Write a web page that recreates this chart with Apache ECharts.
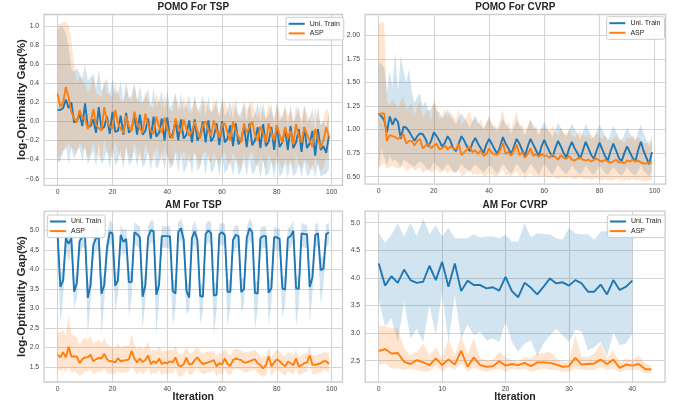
<!DOCTYPE html>
<html><head><meta charset="utf-8">
<script src="https://cdn.jsdelivr.net/npm/echarts@6/dist/echarts.min.js"></script>
<style>html,body{margin:0;padding:0;background:#fff}#c{width:678px;height:409px}</style>
</head><body><div id="c"></div>
<script>
// ---------- titles / legend names ----------
const panelTitles = ['POMO For TSP', 'POMO For CVRP', 'AM For TSP', 'AM For CVRP'];
const seriesNames = ['Uni. Train', 'ASP'];
const yLabel = 'log-Optimality Gap(%)';
const xLabel = 'Iteration';

// ---------- tick values ----------
const xTicks100 = [0, 20, 40, 60, 80, 100];
const xTicks40 = [0, 10, 20, 30, 40];
const yTicksTL = [-0.6, -0.4, -0.2, 0.0, 0.2, 0.4, 0.6, 0.8, 1.0];
const yTicksTR = [0.5, 0.75, 1.0, 1.25, 1.5, 1.75, 2.0];
const yTicksBL = [1.5, 2.0, 2.5, 3.0, 3.5, 4.0, 4.5, 5.0];
const yTicksBR = [2.5, 3.0, 3.5, 4.0, 4.5, 5.0];

// ---------- POMO For TSP ----------
const tlUniMean = [0.12,0.12,0.14,0.23,0.14,0.20,-0.01,0.00,0.08,-0.05,
0.19,-0.06,-0.05,0.02,-0.12,0.15,-0.08,-0.06,0.05,-0.13,
0.10,-0.11,-0.10,0.06,-0.14,0.09,-0.12,-0.08,0.05,-0.14,
0.07,-0.14,-0.10,0.03,-0.18,0.05,-0.16,-0.12,0.03,-0.20,
0.04,-0.17,-0.13,0.00,-0.20,0.02,-0.18,-0.14,0.01,-0.22,
0.02,-0.20,-0.15,0.00,-0.22,0.01,-0.21,-0.16,-0.02,-0.25,
0.00,-0.22,-0.18,-0.04,-0.26,-0.02,-0.24,-0.19,-0.05,-0.27,
-0.02,-0.25,-0.20,-0.06,-0.28,-0.03,-0.26,-0.21,-0.06,-0.30,
-0.04,-0.27,-0.22,-0.08,-0.30,-0.05,-0.28,-0.22,-0.08,-0.32,
-0.06,-0.28,-0.23,-0.10,-0.36,-0.08,-0.30,-0.26,-0.33,-0.15];
const tlUniLo = [-0.42,-0.42,-0.32,-0.25,-0.45,-0.28,-0.40,-0.30,-0.28,-0.42,
-0.25,-0.45,-0.38,-0.30,-0.48,-0.22,-0.45,-0.40,-0.30,-0.50,
-0.28,-0.46,-0.42,-0.30,-0.50,-0.28,-0.46,-0.42,-0.30,-0.48,
-0.30,-0.48,-0.44,-0.32,-0.52,-0.30,-0.50,-0.45,-0.32,-0.52,
-0.32,-0.50,-0.46,-0.34,-0.54,-0.32,-0.55,-0.48,-0.34,-0.56,
-0.33,-0.52,-0.48,-0.36,-0.57,-0.34,-0.55,-0.50,-0.38,-0.58,
-0.36,-0.55,-0.50,-0.40,-0.58,-0.38,-0.57,-0.52,-0.40,-0.58,
-0.38,-0.56,-0.52,-0.42,-0.60,-0.40,-0.58,-0.54,-0.42,-0.60,
-0.40,-0.58,-0.54,-0.44,-0.60,-0.42,-0.58,-0.54,-0.44,-0.60,
-0.42,-0.58,-0.55,-0.45,-0.60,-0.44,-0.58,-0.56,-0.55,-0.50];
const tlUniHi = [0.95,1.00,0.98,0.92,0.78,0.55,0.52,0.56,0.50,0.45,
0.60,0.42,0.46,0.50,0.35,0.55,0.32,0.38,0.45,0.28,
0.45,0.30,0.30,0.42,0.22,0.42,0.24,0.28,0.40,0.20,
0.38,0.20,0.25,0.35,0.15,0.35,0.16,0.22,0.32,0.12,
0.32,0.14,0.20,0.30,0.10,0.30,0.12,0.18,0.28,0.08,
0.28,0.10,0.16,0.28,0.06,0.27,0.08,0.14,0.24,0.04,
0.26,0.06,0.12,0.22,0.02,0.24,0.04,0.10,0.20,0.00,
0.22,0.02,0.08,0.20,0.00,0.20,0.02,0.08,0.18,-0.04,
0.20,0.00,0.06,0.16,-0.04,0.18,-0.02,0.06,0.16,-0.06,
0.18,-0.02,0.04,0.14,-0.10,0.16,-0.04,0.00,-0.05,0.09];
const tlAspMean = [0.29,0.15,0.20,0.36,0.25,0.10,0.03,-0.01,0.12,0.03,
0.03,-0.08,-0.02,0.13,-0.04,-0.07,-0.10,0.15,0.00,-0.05,
-0.08,0.12,-0.02,-0.08,-0.12,0.06,-0.05,-0.10,0.10,-0.02,
-0.08,-0.12,0.08,-0.04,-0.10,-0.13,0.05,-0.06,-0.12,0.04,
-0.08,-0.14,-0.18,0.03,-0.06,-0.12,0.02,-0.08,-0.15,-0.10,
0.00,-0.10,-0.18,-0.04,0.00,-0.10,-0.15,0.01,-0.09,-0.17,
-0.03,-0.02,-0.12,-0.20,0.00,-0.10,-0.16,-0.22,-0.02,-0.12,
-0.06,0.00,-0.14,-0.20,-0.05,-0.13,-0.22,-0.02,-0.12,-0.20,
-0.04,-0.14,-0.22,-0.06,-0.18,-0.10,-0.24,-0.03,-0.16,-0.22,
-0.06,-0.14,-0.20,-0.27,-0.08,-0.18,-0.28,-0.20,-0.06,-0.16];
const tlAspLo = [-0.38,-0.36,-0.30,-0.30,-0.22,-0.28,-0.30,-0.36,-0.22,-0.28,
-0.30,-0.38,-0.32,-0.20,-0.34,-0.38,-0.40,-0.18,-0.32,-0.36,
-0.38,-0.20,-0.32,-0.38,-0.42,-0.26,-0.36,-0.40,-0.22,-0.32,
-0.38,-0.42,-0.24,-0.34,-0.40,-0.42,-0.26,-0.36,-0.42,-0.28,
-0.38,-0.44,-0.46,-0.30,-0.36,-0.42,-0.30,-0.38,-0.44,-0.40,
-0.32,-0.40,-0.46,-0.34,-0.32,-0.40,-0.44,-0.32,-0.40,-0.46,
-0.34,-0.33,-0.42,-0.48,-0.32,-0.40,-0.46,-0.50,-0.34,-0.42,
-0.36,-0.32,-0.44,-0.48,-0.36,-0.42,-0.50,-0.34,-0.42,-0.48,
-0.36,-0.44,-0.50,-0.38,-0.46,-0.40,-0.52,-0.34,-0.46,-0.50,
-0.38,-0.44,-0.48,-0.52,-0.38,-0.46,-0.52,-0.48,-0.38,-0.42];
const tlAspHi = [1.02,1.02,1.04,1.04,1.00,0.85,0.60,0.40,0.48,0.42,
0.40,0.30,0.35,0.48,0.30,0.28,0.25,0.45,0.30,0.28,
0.25,0.40,0.30,0.22,0.20,0.35,0.25,0.20,0.38,0.25,
0.20,0.18,0.32,0.22,0.16,0.14,0.30,0.20,0.15,0.28,
0.18,0.12,0.10,0.28,0.18,0.12,0.26,0.16,0.10,0.14,
0.24,0.14,0.08,0.20,0.22,0.14,0.10,0.24,0.14,0.08,
0.20,0.20,0.12,0.05,0.22,0.12,0.08,0.02,0.20,0.12,
0.16,0.22,0.10,0.04,0.18,0.10,0.03,0.20,0.10,0.04,
0.18,0.10,0.02,0.16,0.06,0.12,0.00,0.18,0.08,0.02,
0.16,0.08,0.02,-0.04,0.14,0.04,-0.04,0.02,0.14,0.08];

// ---------- POMO For CVRP ----------
const trUniMean = [1.17,1.14,1.10,0.97,1.14,1.05,1.12,1.08,0.90,1.03,
1.02,0.98,0.93,0.88,0.93,0.96,0.95,0.90,0.82,0.88,
0.97,0.93,0.88,0.82,0.86,0.93,0.88,0.80,0.77,0.85,
0.93,0.88,0.82,0.77,0.86,0.91,0.85,0.80,0.75,0.84,
0.90,0.85,0.79,0.74,0.82,0.92,0.85,0.80,0.74,0.82,
0.90,0.85,0.78,0.72,0.82,0.90,0.84,0.78,0.72,0.82,
0.89,0.82,0.76,0.71,0.80,0.88,0.82,0.75,0.70,0.80,
0.87,0.80,0.75,0.69,0.78,0.87,0.80,0.73,0.69,0.78,
0.86,0.79,0.72,0.67,0.77,0.85,0.78,0.70,0.66,0.75,
0.82,0.76,0.70,0.66,0.78,0.87,0.77,0.70,0.63,0.76];
const trUniLo = [0.55,0.80,0.70,0.62,0.72,0.66,0.68,0.65,0.60,0.68,
0.66,0.64,0.62,0.60,0.64,0.66,0.64,0.60,0.56,0.60,
0.66,0.62,0.60,0.56,0.60,0.64,0.60,0.56,0.54,0.58,
0.64,0.60,0.58,0.55,0.60,0.63,0.60,0.57,0.54,0.58,
0.62,0.60,0.56,0.53,0.58,0.64,0.60,0.56,0.53,0.58,
0.64,0.60,0.56,0.53,0.58,0.64,0.60,0.56,0.52,0.58,
0.64,0.60,0.55,0.52,0.58,0.63,0.58,0.55,0.52,0.57,
0.62,0.58,0.55,0.52,0.56,0.62,0.58,0.54,0.52,0.56,
0.62,0.58,0.54,0.52,0.56,0.60,0.57,0.53,0.51,0.55,
0.60,0.56,0.53,0.51,0.56,0.62,0.56,0.53,0.50,0.56];
const trUniHi = [1.70,1.70,1.65,1.40,1.62,1.45,1.82,1.40,1.78,1.62,
1.50,1.65,1.40,1.28,1.35,1.38,1.25,1.30,1.20,1.22,
1.28,1.20,1.18,1.12,1.15,1.22,1.15,1.10,1.05,1.12,
1.18,1.12,1.08,1.02,1.10,1.15,1.08,1.04,1.00,1.08,
1.12,1.05,1.02,0.98,1.05,1.12,1.06,1.02,0.96,1.02,
1.10,1.06,1.00,0.94,1.02,1.10,1.05,1.00,0.94,1.02,
1.08,1.02,0.97,0.92,1.00,1.07,1.02,0.96,0.92,1.00,
1.06,1.00,0.96,0.90,0.98,1.06,1.00,0.94,0.90,0.98,
1.05,1.00,0.94,0.88,0.96,1.04,0.98,0.92,0.88,0.95,
1.02,0.96,0.92,0.88,0.98,1.05,0.96,0.90,0.82,0.94];
const trAspMean = [1.16,1.17,1.17,0.88,0.94,0.93,0.92,0.90,0.92,0.95,
0.85,0.88,0.88,0.83,0.88,0.90,0.80,0.83,0.85,0.80,
0.83,0.85,0.79,0.80,0.83,0.79,0.82,0.80,0.79,0.85,
0.73,0.76,0.79,0.82,0.76,0.78,0.74,0.78,0.72,0.74,
0.80,0.75,0.74,0.73,0.78,0.86,0.74,0.76,0.72,0.78,
0.84,0.73,0.76,0.70,0.74,0.80,0.72,0.74,0.71,0.74,
0.72,0.72,0.70,0.74,0.71,0.68,0.73,0.70,0.69,0.72,
0.68,0.67,0.69,0.70,0.68,0.67,0.68,0.66,0.68,0.69,
0.67,0.66,0.68,0.66,0.65,0.66,0.68,0.65,0.66,0.64,
0.67,0.66,0.68,0.66,0.67,0.65,0.64,0.64,0.65,0.65];
const trAspLo = [0.60,0.62,0.65,0.58,0.60,0.62,0.60,0.58,0.60,0.62,
0.56,0.58,0.60,0.56,0.58,0.60,0.54,0.56,0.58,0.54,
0.56,0.58,0.54,0.55,0.57,0.54,0.56,0.55,0.54,0.58,
0.50,0.52,0.55,0.57,0.52,0.54,0.51,0.54,0.50,0.51,
0.55,0.52,0.51,0.50,0.54,0.58,0.51,0.52,0.50,0.54,
0.56,0.50,0.52,0.48,0.51,0.55,0.50,0.51,0.49,0.51,
0.50,0.50,0.49,0.51,0.49,0.47,0.50,0.49,0.48,0.50,
0.48,0.47,0.48,0.49,0.48,0.47,0.48,0.46,0.48,0.48,
0.47,0.46,0.48,0.46,0.46,0.46,0.48,0.46,0.46,0.45,
0.47,0.46,0.48,0.46,0.47,0.46,0.45,0.45,0.46,0.46];
const trAspHi = [2.12,2.14,2.13,1.30,1.25,1.32,1.28,1.22,1.30,1.35,
1.20,1.25,1.28,1.15,1.25,1.30,1.12,1.18,1.22,1.10,
1.32,1.25,1.10,1.15,1.22,1.12,1.18,1.15,1.10,1.22,
1.05,1.10,1.15,1.20,1.08,1.12,1.05,1.12,1.02,1.05,
1.15,1.06,1.04,1.02,1.10,1.22,1.04,1.08,1.00,1.10,
1.20,1.02,1.06,0.98,1.04,1.12,1.00,1.04,0.98,1.02,
1.02,1.00,0.98,1.04,0.98,0.94,1.02,0.96,0.95,1.00,
0.94,0.92,0.96,0.98,0.94,0.92,0.95,0.90,0.94,0.96,
0.92,0.90,0.94,0.90,0.88,0.90,0.94,0.88,0.90,0.86,
0.92,0.90,0.94,0.90,0.92,0.88,0.86,0.85,0.88,0.86];

// ---------- AM For TSP ----------
const blUniMean = [4.85,3.55,3.72,4.80,4.65,4.80,3.43,3.65,4.72,4.83,
4.83,3.27,3.60,4.62,4.80,4.80,3.38,3.60,4.55,4.95,
4.92,3.58,3.72,4.88,4.70,4.78,3.67,3.68,4.95,4.90,
4.82,3.30,3.60,4.82,5.00,4.98,3.35,3.60,4.85,4.85,
4.85,4.84,3.45,3.38,4.95,5.05,4.75,3.45,3.28,4.80,
4.97,4.75,3.32,3.30,4.90,5.00,4.92,3.33,3.35,4.90,
4.95,4.88,3.43,3.42,4.75,4.88,4.85,3.42,3.50,4.80,
5.05,4.95,3.40,3.38,4.80,4.85,4.85,3.40,3.52,4.82,
4.82,4.78,3.52,3.48,4.80,4.85,4.98,3.52,3.50,4.92,
4.90,4.90,3.55,3.80,4.88,4.92,3.98,4.02,4.90,4.95];
const blUniLo = [4.50,2.60,3.30,4.45,4.20,4.50,3.00,3.25,4.35,4.55,
4.55,2.30,3.20,4.25,4.50,4.50,2.35,3.20,4.15,4.65,
4.60,2.90,3.35,4.55,4.35,4.45,2.80,3.30,4.65,4.60,
4.50,2.45,3.20,4.50,4.70,4.65,2.30,3.20,4.55,4.55,
4.55,4.50,2.55,3.00,4.65,4.75,4.40,2.85,2.95,4.45,
4.65,4.40,2.60,2.95,4.60,4.70,4.60,2.30,3.00,4.60,
4.65,4.55,2.55,3.05,4.40,4.55,4.55,2.90,3.10,4.45,
4.75,4.65,2.45,3.00,4.45,4.55,4.55,2.55,3.15,4.50,
4.50,4.45,2.75,3.10,4.45,4.55,4.70,2.55,3.10,4.60,
4.55,4.55,2.65,3.40,4.55,4.60,3.08,3.65,4.55,4.65];
const blUniHi = [5.10,3.85,4.05,5.05,4.95,5.10,3.75,3.95,5.00,5.10,
5.10,3.60,3.90,4.90,5.10,5.10,3.70,3.90,4.85,5.25,
5.20,3.90,4.00,5.15,5.00,5.05,3.95,3.95,5.20,5.15,
5.10,3.65,3.90,5.10,5.25,5.25,3.65,3.90,5.10,5.10,
5.10,5.10,3.75,3.70,5.20,5.30,5.05,3.75,3.60,5.05,
5.25,5.00,3.65,3.60,5.15,5.25,5.20,3.65,3.65,5.15,
5.20,5.15,3.75,3.75,5.00,5.15,5.10,3.75,3.80,5.05,
5.30,5.20,3.70,3.70,5.05,5.10,5.10,3.70,3.85,5.10,
5.05,5.05,3.85,3.80,5.05,5.10,5.25,3.85,3.80,5.20,
5.15,5.15,3.85,4.15,5.15,5.20,4.30,4.35,5.15,5.20];
const blAspMean = [1.82,1.75,1.88,1.75,2.02,1.77,1.78,1.77,1.60,1.70,
1.75,1.75,1.82,1.65,1.70,1.74,1.72,1.84,1.70,1.65,
1.65,1.62,1.73,1.65,1.67,1.68,1.70,1.92,1.72,1.62,
1.72,1.63,1.68,1.80,1.58,1.65,1.60,1.72,1.58,1.62,
1.60,1.65,1.62,1.75,1.55,1.52,1.58,1.74,1.57,1.58,
1.68,1.75,1.65,1.58,1.60,1.62,1.65,1.68,1.52,1.60,
1.57,1.72,1.58,1.53,1.68,1.72,1.70,1.68,1.62,1.62,
1.65,1.68,1.70,1.60,1.55,1.47,1.55,1.78,1.52,1.62,
1.70,1.65,1.58,1.52,1.64,1.60,1.55,1.72,1.52,1.55,
1.60,1.62,1.80,1.56,1.56,1.58,1.60,1.65,1.65,1.58];
const blAspLo = [1.45,1.40,1.45,1.35,1.50,1.35,1.40,1.35,1.28,1.32,
1.40,1.38,1.45,1.32,1.35,1.40,1.38,1.48,1.35,1.32,
1.35,1.32,1.40,1.35,1.36,1.36,1.38,1.55,1.40,1.32,
1.40,1.32,1.38,1.50,1.30,1.36,1.32,1.42,1.30,1.34,
1.32,1.36,1.34,1.48,1.28,1.25,1.30,1.46,1.30,1.31,
1.40,1.48,1.38,1.32,1.34,1.36,1.38,1.42,1.26,1.34,
1.30,1.46,1.32,1.28,1.42,1.46,1.44,1.42,1.36,1.36,
1.40,1.42,1.44,1.35,1.30,1.24,1.30,1.55,1.28,1.38,
1.45,1.40,1.34,1.28,1.40,1.36,1.32,1.48,1.28,1.32,
1.36,1.38,1.55,1.32,1.32,1.34,1.36,1.42,1.42,1.34];
const blAspHi = [2.38,2.40,2.45,2.30,2.85,2.35,2.30,2.25,2.05,2.20,
2.25,2.20,2.30,2.10,2.15,2.20,2.10,2.25,2.10,2.05,
2.00,2.00,2.10,2.00,2.05,2.05,2.05,2.35,2.10,1.95,
2.05,1.95,2.00,2.15,1.90,1.95,1.90,2.05,1.90,1.92,
1.90,1.95,1.92,2.05,1.85,1.82,1.88,2.02,1.85,1.86,
1.95,2.02,1.92,1.85,1.88,1.90,1.90,1.92,1.80,1.86,
1.84,1.98,1.85,1.80,1.94,1.98,1.95,1.92,1.88,1.88,
1.90,1.92,1.95,1.86,1.80,1.72,1.80,2.00,1.78,1.86,
1.94,1.90,1.82,1.78,1.88,1.84,1.80,1.95,1.76,1.80,
1.84,1.86,2.05,1.80,1.80,1.82,1.84,1.88,1.88,1.84];

// ---------- AM For CVRP ----------
const brUniMean = [4.26,3.86,4.03,3.91,4.15,3.96,3.91,3.93,4.22,3.96,
4.29,3.84,4.26,3.76,3.95,3.87,3.87,3.81,3.83,3.77,
4.02,3.76,3.65,3.91,3.82,3.70,3.84,3.99,3.90,3.92,
3.86,3.96,3.90,3.75,3.75,3.88,3.70,3.96,3.78,3.84,3.95];
const brUniLo = [3.60,3.12,3.27,2.84,3.57,2.90,3.08,2.84,3.51,2.96,
3.75,2.84,3.69,2.90,3.15,2.96,3.03,2.87,2.90,2.84,
3.20,2.84,2.66,2.81,2.87,2.58,2.81,2.96,3.08,2.96,
2.84,3.06,3.03,2.69,2.75,2.84,2.57,3.01,2.78,2.81,2.99];
const brUniHi = [4.82,4.63,4.78,4.99,4.75,5.00,4.76,5.07,4.79,4.95,
4.75,4.91,4.72,4.72,4.72,4.79,4.73,4.75,4.75,4.72,
4.78,4.66,4.66,4.99,4.73,4.81,4.79,4.79,4.72,4.69,
4.90,4.81,4.79,4.79,4.69,4.84,4.85,4.84,4.90,4.84,4.84];
const brAspMean = [2.675,2.71,2.63,2.64,2.48,2.44,2.51,2.47,2.42,2.54,
2.42,2.52,2.43,2.68,2.39,2.56,2.42,2.39,2.40,2.49,
2.41,2.44,2.42,2.46,2.40,2.47,2.47,2.46,2.43,2.39,
2.40,2.55,2.43,2.44,2.45,2.52,2.44,2.52,2.37,2.43,
2.41,2.44,2.35,2.34];
const brAspLo = [2.42,2.45,2.36,2.36,2.33,2.36,2.33,2.30,2.31,2.41,
2.30,2.39,2.33,2.45,2.30,2.37,2.33,2.30,2.33,2.36,
2.30,2.35,2.33,2.36,2.30,2.33,2.36,2.33,2.33,2.30,
2.30,2.36,2.33,2.33,2.33,2.39,2.33,2.36,2.29,2.33,
2.33,2.33,2.27,2.27];
const brAspHi = [3.13,3.12,3.09,3.09,2.72,2.60,2.66,2.81,2.60,2.75,
2.54,2.90,2.60,2.96,2.60,2.90,2.54,2.51,2.51,2.66,
2.56,2.51,2.48,2.57,2.54,2.63,2.63,2.67,2.54,2.48,
2.48,2.96,2.57,2.57,2.63,2.81,2.54,2.69,2.48,2.54,
2.51,2.60,2.45,2.41];

// ---------- styling ----------
const FONT = '"Liberation Sans", Arial, sans-serif';
const BLUE = '#1f77b4', ORANGE = '#ff7f0e';
const BLUE_BAND = 'rgba(31,119,180,0.2)', ORANGE_BAND = 'rgba(255,127,14,0.2)';
const TXT = '#262626';

const panels = [
  {uni:[tlUniMean,tlUniLo,tlUniHi], asp:[tlAspMean,tlAspLo,tlAspHi], xr:[-4.95,103.95], xt:xTicks100, yr:[-0.67,1.12], yt:yTicksTL, dec:1,
   grid:{left:44.1, top:14.5, width:298.4, height:170.8}, legend:{left:286, top:17.3}, titleTop:2.5},
  {uni:[trUniMean,trUniLo,trUniHi], asp:[trAspMean,trAspLo,trAspHi], xr:[-4.95,103.95], xt:xTicks100, yr:[0.42,2.22], yt:yTicksTR, dec:2,
   grid:{left:365.0, top:14.5, width:300.6, height:169.7}, legend:{left:606.7, top:16.7}, titleTop:2.5},
  {uni:[blUniMean,blUniLo,blUniHi], asp:[blAspMean,blAspLo,blAspHi], xr:[-4.95,103.95], xt:xTicks100, yr:[1.12,5.49], yt:yTicksBL, dec:1,
   grid:{left:44.1, top:211.1, width:298.4, height:170.9}, legend:{left:47.3, top:215}, titleTop:199.8},
  {uni:[brUniMean,brUniLo,brUniHi], asp:[brAspMean,brAspLo,brAspHi], xr:[-2.15,45.15], xt:xTicks40, yr:[2.11,5.21], yt:yTicksBR, dec:1,
   grid:{left:365.1, top:211.1, width:299.9, height:171.1}, legend:{left:607.3, top:215}, titleTop:199.8}
];

const fmt = (v, d) => (v < 0 ? '\u2212' : '') + Math.abs(v).toFixed(d);

function bandSeries(gi, lo, hi, fill) {
  return {
    type:'custom', xAxisIndex:gi, yAxisIndex:gi, silent:true, z:1, clip:true,
    data: lo.map((v,i)=>[i, v, hi[i]]),
    encode:{x:0, y:[1,2]},
    renderItem: (params, api) => {
      if (params.dataIndex !== 0) return null;
      const pts = [];
      for (let i = 0; i < hi.length; i++) pts.push(api.coord([i, hi[i]]));
      for (let i = lo.length - 1; i >= 0; i--) pts.push(api.coord([i, lo[i]]));
      return {type:'polygon', shape:{points:pts}, style:{fill:fill, stroke:null}, silent:true};
    }
  };
}

const grids = [], xAxes = [], yAxes = [], series = [], legends = [], titles = [];
panels.forEach((p, gi) => {
  grids.push(Object.assign({show:true, borderColor:'#cccccc', borderWidth:1.3, backgroundColor:'#ffffff', containLabel:false}, p.grid));
  xAxes.push({type:'value', gridIndex:gi, min:p.xr[0], max:p.xr[1],
    axisLine:{show:false}, axisTick:{show:false, customValues:p.xt},
    axisLabel:{customValues:p.xt, fontSize:6.8, color:'#444', fontFamily:FONT, margin:3.5, formatter:v=>String(v)},
    splitLine:{show:true, lineStyle:{color:'#d4d4d4', width:1.1}}});
  yAxes.push({type:'value', gridIndex:gi, min:p.yr[0], max:p.yr[1],
    axisLine:{show:false}, axisTick:{show:false, customValues:p.yt},
    axisLabel:{customValues:p.yt, fontSize:6.8, color:'#444', fontFamily:FONT, margin:5, formatter:v=>fmt(v,p.dec)},
    splitLine:{show:true, lineStyle:{color:'#d4d4d4', width:1.1}}});
  series.push(bandSeries(gi, p.uni[1], p.uni[2], BLUE_BAND));
  series.push(bandSeries(gi, p.asp[1], p.asp[2], ORANGE_BAND));
  [[p.uni[0], BLUE, seriesNames[0]], [p.asp[0], ORANGE, seriesNames[1]]].forEach(([mean, col, nm]) => {
    series.push({type:'line', name:nm, xAxisIndex:gi, yAxisIndex:gi, data: mean.map((v,i)=>[i,v]),
      symbol:'none', lineStyle:{color:col, width:1.9}, itemStyle:{color:col}, z:3, emphasis:{disabled:true}});
  });
  legends.push({data:seriesNames, orient:'vertical', left:p.legend.left, top:p.legend.top,
    icon:'rect', itemWidth:16, itemHeight:2, itemGap:1.6, padding:[2.5,4,2.5,2.7],
    backgroundColor:'rgba(255,255,255,0.85)', borderColor:'#cccccc', borderWidth:1, borderRadius:2,
    textStyle:{fontSize:7, color:TXT, fontFamily:FONT, lineHeight:8}, selectedMode:false});
  titles.push({text:panelTitles[gi], left:p.grid.left + p.grid.width/2, top:p.titleTop, textAlign:'center', padding:0,
    textStyle:{fontSize:10, fontWeight:'bold', color:TXT, fontFamily:FONT}});
});

const graphics = [
  {type:'text', x:22, y:99.5, rotation:Math.PI/2, style:{text:yLabel, fill:TXT, font:'bold 11.5px ' + FONT, textAlign:'center', textVerticalAlign:'middle'}},
  {type:'text', x:22, y:296.5, rotation:Math.PI/2, style:{text:yLabel, fill:TXT, font:'bold 11.5px ' + FONT, textAlign:'center', textVerticalAlign:'middle'}},
  {type:'text', x:193.3, y:397, style:{text:xLabel, fill:TXT, font:'bold 10.5px ' + FONT, textAlign:'center', textVerticalAlign:'middle'}},
  {type:'text', x:515, y:397, style:{text:xLabel, fill:TXT, font:'bold 10.5px ' + FONT, textAlign:'center', textVerticalAlign:'middle'}}
];

const chart = echarts.init(document.getElementById('c'), null, {renderer:'canvas'});
chart.setOption({
  animation:false, backgroundColor:'#ffffff',
  title:titles, grid:grids, xAxis:xAxes, yAxis:yAxes, legend:legends, series:series, graphic:graphics
});
</script></body></html>
